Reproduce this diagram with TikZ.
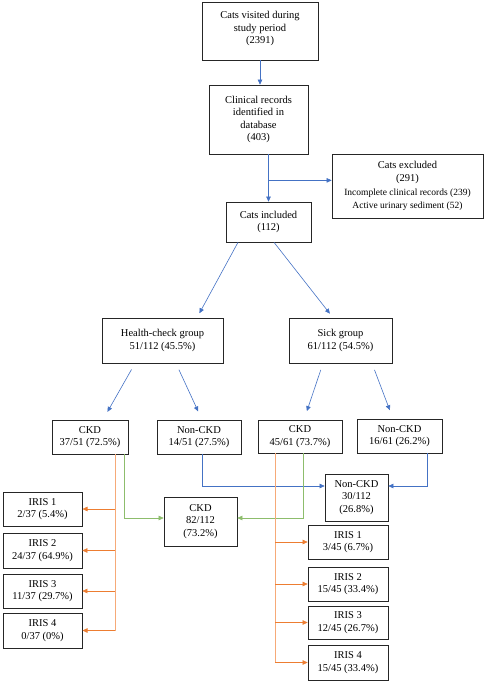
\documentclass[tikz,border=0pt]{standalone}
\usepackage{fontspec}
\setmainfont{Liberation Serif}
\usetikzlibrary{calc,positioning,arrows.meta}
\definecolor{arrblue}{RGB}{68,114,196}
\definecolor{arrorange}{RGB}{237,125,49}
\definecolor{arrgreen}{RGB}{112,173,71}
\definecolor{trunkorange}{RGB}{246,170,120}
\newcommand{\smalltext}{\fontsize{9.5}{11}\selectfont}

\begin{document}
\begin{tikzpicture}[x=1pt,y=-1pt,
	box/.style={draw=black!85,line width=0.7pt,align=center,inner sep=1pt,font=\fontsize{10.5}{12.5}\selectfont},
	tip/.style={-{Triangle[length=5pt,width=4.5pt]}},
	bluearr/.style={arrblue,line width=0.6pt},
	orangearr/.style={arrorange,line width=0.6pt},
	trunkline/.style={trunkorange,line width=0.7pt},
	greenarr/.style={arrgreen!80,line width=0.6pt}]
	%\draw[color=gray,step=10pt,help lines,opacity=0.3] (0,0) grid (485,681); %help grid
	\useasboundingbox (0,0) rectangle (485,681);
	% top of the chart
	\node[box,minimum width=116pt,minimum height=58pt] (visited) at (260,31) {Cats visited during\\study period\\(2391)\\[-6pt]};
	\node[box,minimum width=99pt,minimum height=69pt] (records) at (258.5,119.5) {Clinical records\\identified in\\database\\(403)};
	\node[box,minimum width=151pt,minimum height=64pt] (excluded) at (407.5,186) {Cats excluded\\(291)\\[2pt]{\smalltext Incomplete clinical records (239)}\\{\smalltext Active urinary sediment (52)}};
	\node[box,minimum width=85pt,minimum height=40pt] (included) at (268.5,222) {Cats included\\(112)};
	% groups
	\node[box,minimum width=121pt,minimum height=45pt] (health) at (162.5,340.5) {Health-check group\\51/112 (45.5\%)};
	\node[box,minimum width=103pt,minimum height=45pt] (sick) at (340.5,340.5) {Sick group\\61/112 (54.5\%)};
	\node[box,minimum width=76pt,minimum height=34pt] (ckdA) at (90,437) {CKD\\37/51 (72.5\%)};
	\node[box,minimum width=84pt,minimum height=34pt] (nonA) at (199,437) {Non-CKD\\14/51 (27.5\%)};
	\node[box,minimum width=84pt,minimum height=33pt] (ckdB) at (300,436.5) {CKD\\45/61 (73.7\%)};
	\node[box,minimum width=85pt,minimum height=34pt] (nonB) at (399.5,436) {Non-CKD\\16/61 (26.2\%)};
	% totals
	\node[box,minimum width=63pt,minimum height=47pt] (nonAll) at (356.5,497.5) {Non-CKD\\30/112\\(26.8\%)};
	\node[box,minimum width=73pt,minimum height=49pt] (ckdAll) at (200.5,521.5) {CKD\\82/112\\(73.2\%)};
	% IRIS stages
	\node[box,line width=1pt,minimum width=79pt,minimum height=34pt] (irisA1) at (42.5,509) {IRIS 1\\2/37 (5.4\%)};
	\node[box,minimum width=79pt,minimum height=35pt] (irisA2) at (42.5,550.5) {IRIS 2\\24/37 (64.9\%)};
	\node[box,minimum width=79pt,minimum height=34pt] (irisA3) at (42.5,591) {IRIS 3\\11/37 (29.7\%)};
	\node[box,line width=1pt,minimum width=79pt,minimum height=35pt] (irisA4) at (42.5,630.5) {IRIS 4\\0/37 (0\%)};
	\node[box,minimum width=80pt,minimum height=34pt] (irisB1) at (348,542) {IRIS 1\\3/45 (6.7\%)};
	\node[box,minimum width=80pt,minimum height=34pt] (irisB2) at (348,584) {IRIS 2\\15/45 (33.4\%)};
	\node[box,minimum width=80pt,minimum height=33pt] (irisB3) at (348,622.5) {IRIS 3\\12/45 (26.7\%)};
	\node[box,minimum width=80pt,minimum height=35pt] (irisB4) at (348,662.5) {IRIS 4\\15/45 (33.4\%)};

	% blue connectors
	\draw[bluearr,tip] (visited.south) -- (visited.south |- records.north);
	\draw[bluearr,tip] (included.north |- records.south) -- (included.north);
	\coordinate (split) at ($(included.north |- records.south)+(0,26)$);
	\draw[bluearr,tip] (split) -- (split -| excluded.west);
	\draw[bluearr,tip,shorten >=5pt] ($(included.south)+(-30.5,0)$) -- ($(health.north)+(34.5,0)$);
	\draw[bluearr,tip,shorten >=5pt] ($(included.south)+(5.5,0)$) -- ($(sick.north)+(-7.5,0)$);
	\draw[bluearr,tip,shorten <=7pt,shorten >=9pt] ($(health.south)+(-27.5,0)$) -- ($(ckdA.north)+(13,0)$);
	\draw[bluearr,tip,shorten <=7pt,shorten >=9pt] ($(health.south)+(13.5,0)$) -- ($(nonA.north)+(3,0)$);
	\draw[bluearr,tip,shorten <=7pt,shorten >=9pt] ($(sick.south)+(-17.5,0)$) -- ($(ckdB.north)+(4,0)$);
	\draw[bluearr,tip,shorten <=7pt,shorten >=9pt] ($(sick.south)+(31.5,0)$) -- ($(nonB.north)+(-6.5,0)$);
	\coordinate (nonIn) at ($(nonAll.west)+(0,-11.5)$);
	\draw[bluearr,tip] ($(nonA.south)+(3,0)$) |- (nonIn);
	\draw[bluearr,tip] ($(nonB.south)+(27.5,0)$) |- (nonIn -| nonAll.east);

	% green connectors
	\coordinate (ckdIn) at ($(ckdAll.west)+(0,-3.5)$);
	\draw[greenarr,tip] ($(ckdA.south)+(34,0)$) |- (ckdIn);
	\draw[greenarr,tip] ($(ckdB.south)+(3,0)$) |- (ckdIn -| ckdAll.east);

	% orange connectors
	\coordinate (trunkA) at ($(ckdA.south)+(25,0)$);
	\draw[trunkline] (trunkA) -- (trunkA |- irisA4.east);
	\foreach \i in {1,...,4}
		\draw[orangearr,tip] (trunkA |- irisA\i.east) -- (irisA\i.east);
	\coordinate (trunkB) at ($(ckdB.south)+(-25,0)$);
	\draw[trunkline] (trunkB) -- (trunkB |- irisB4.west);
	\foreach \i in {1,...,4}
		\draw[orangearr,tip] (trunkB |- irisB\i.west) -- (irisB\i.west);
\end{tikzpicture}
\end{document}
